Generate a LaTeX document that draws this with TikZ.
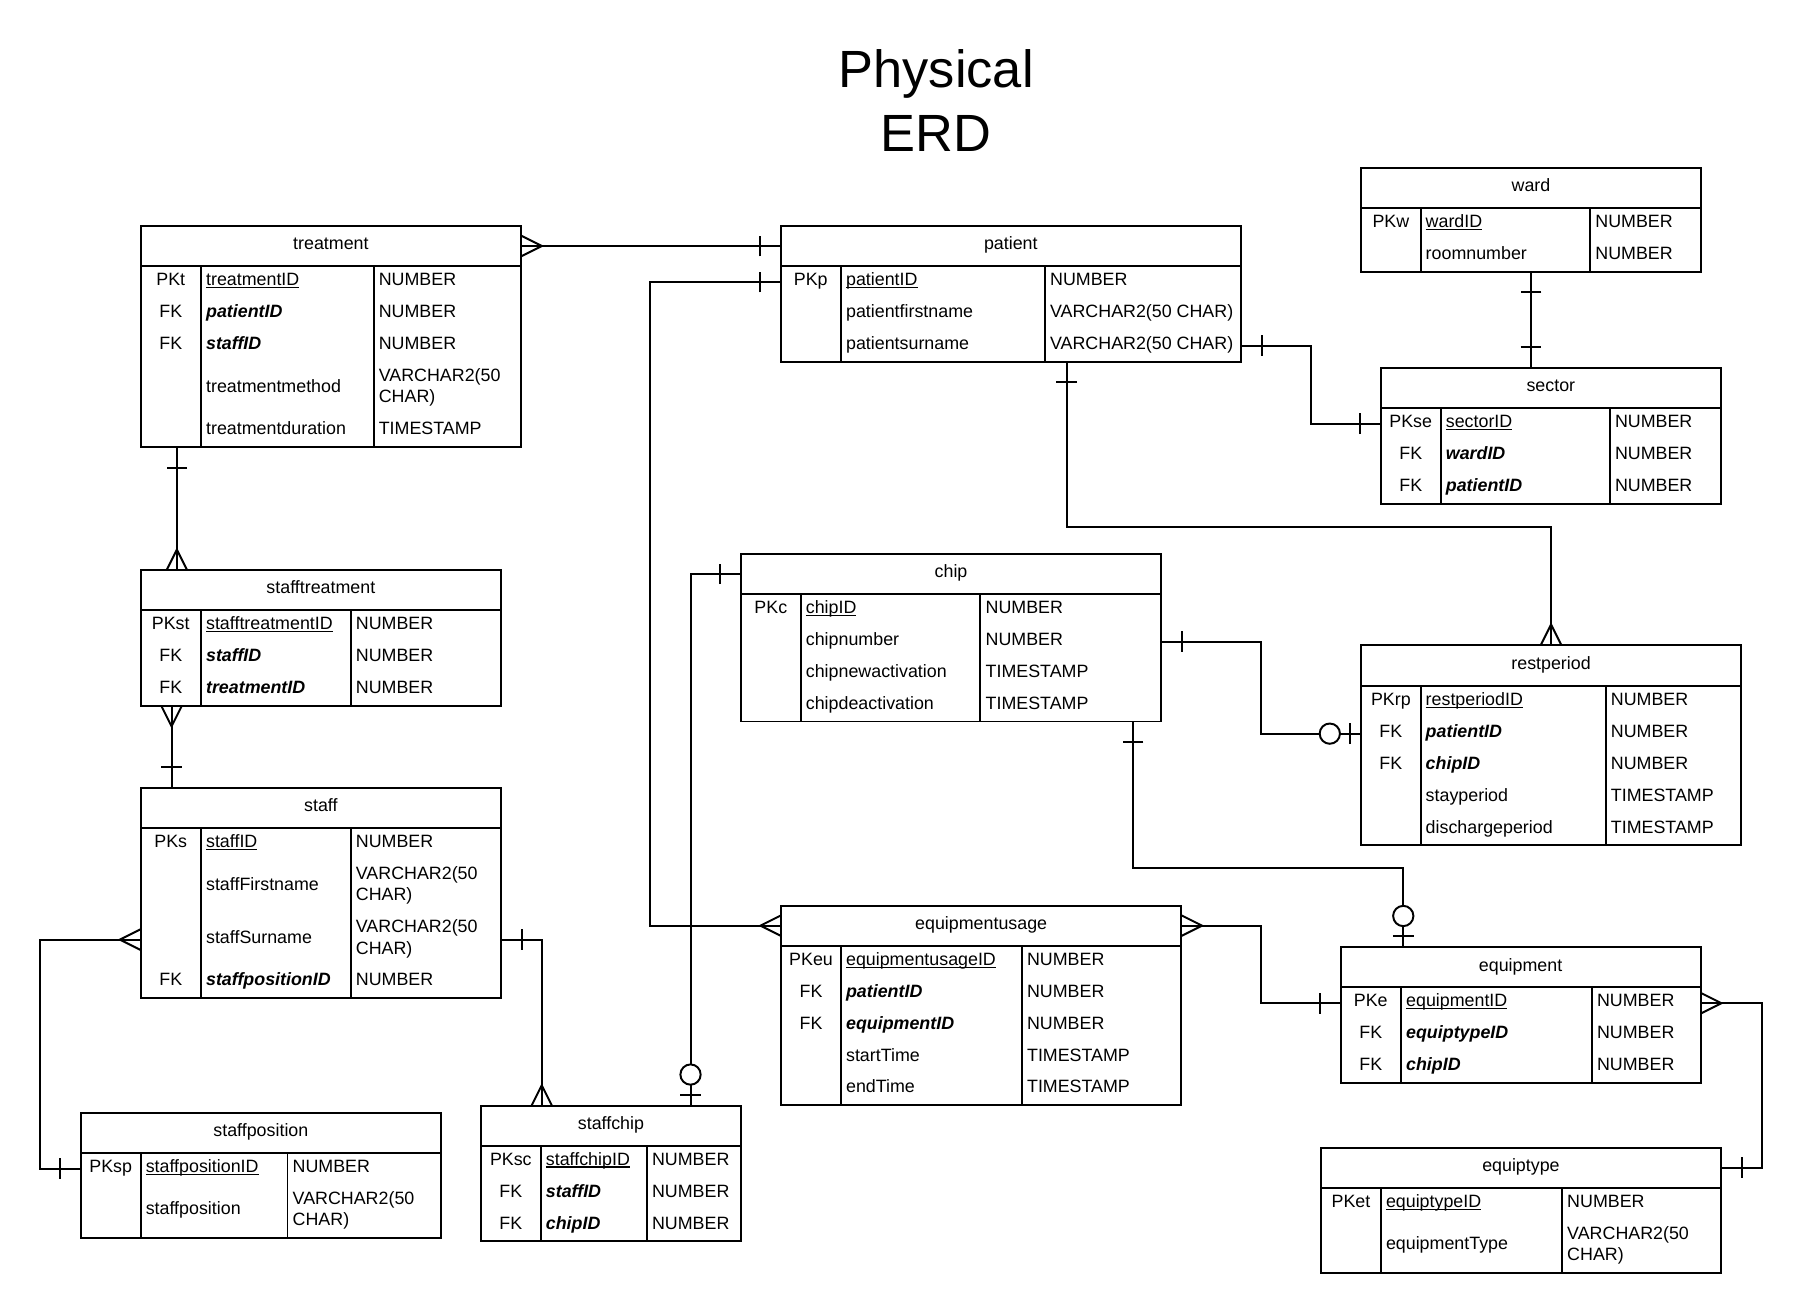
\documentclass[tikz,border=0pt]{standalone}
\usepackage{fontspec}
\setmainfont{Liberation Sans}
\tikzset{
  ent/.style={draw, line width=1.7pt, inner sep=0pt, outer sep=0pt, anchor=north west},
  hdr/.style={draw, line width=1.7pt, inner sep=0pt, outer sep=0pt, anchor=north west,
    text height=11.2pt, text depth=4.8pt, font=\fontsize{15.5}{18.6}\selectfont},
  txt/.style={inner sep=0pt, outer sep=0pt, font=\fontsize{15.5}{18.6}\selectfont},
  conn/.style={line width=1.7pt},
  ttl/.style={inner sep=0pt, anchor=base, font=\fontsize{45.5}{55}\selectfont},
}
\newcommand\pkey[1]{\setbox0\hbox{#1}\rlap{\rule[-2pt]{\wd0}{0.9pt}}\box0}
\newcommand\fkey[1]{\textbf{\textit{#1}}}
\newcommand\twol[2]{\vtop{\baselineskip=18.6pt\lineskiplimit=0pt\hbox{#1}\hbox{#2}}}
\newcommand\ent[9]{%
  \def\exl{#3}\def\edone{#8}\def\edtwo{#9}%
  \node[ent, minimum width={#5-#3}, minimum height={#7-#4}] (#1) at (#3,#4) {};
  \node[hdr, minimum width={#5-#3}, minimum height={#6-#4}] (#1-h) at (#3,#4) {#2};
  \draw[conn] (#8,#6) -- (#8,#7);
  \draw[conn] (#9,#6) -- (#9,#7);
}
\newcommand\erow[6]{%
  \coordinate (#1-y#2) at (\exl,#3);
  \if\relax\detokenize{#4}\relax\else
    \node[txt, anchor=base] (#1-k#2) at ({(\exl+\edone)/2},{#3+3.2}) {#4};
  \fi
  \node[txt, anchor=base west] (#1-r#2) at ({\edone+4.5},{#3+3.2}) {#5};
  \node[txt, anchor=base west] (#1-t#2) at ({\edtwo+4.5},{#3+3.2}) {#6};
}
\newcommand\erowd[6]{%
  \coordinate (#1-y#2) at (\exl,#3);
  \if\relax\detokenize{#4}\relax\else
    \node[txt, anchor=base] (#1-k#2) at ({(\exl+\edone)/2},{#3+3.2}) {#4};
  \fi
  \node[txt, anchor=base west] (#1-r#2) at ({\edone+4.5},{#3+3.2}) {#5};
  \node[txt, anchor=base west] (#1-t#2) at ({\edtwo+4.5},{#3-6.1}) {#6};
}
\newcommand\mone[2]{\begin{scope}[shift={(#1)},rotate=#2]\draw[conn] (18,-9) -- (18,9);\end{scope}}
\newcommand\mmany[2]{\begin{scope}[shift={(#1)},rotate=#2]\draw[conn] (0,-9) -- (18,0) -- (0,9);\end{scope}}
\newcommand\mzone[2]{\begin{scope}[shift={(#1)},rotate=#2]\draw[conn] (9.6,-9) -- (9.6,9);\draw[conn, fill=white] (27.3,0) circle[radius=8.8pt];\end{scope}}

\begin{document}
\begin{tikzpicture}[x=1pt, y=-1pt]
\fill[white] (0,0) rectangle (1565,1140.3);
\useasboundingbox (0,0) rectangle (1565,1140.3);

\node[ttl] (title1) at (813,76.3) {Physical};
\node[ttl] (title2) at (813,131.8) {ERD};

% treatment
\ent{treatment}{treatment}{122.1}{196.3}{452.6}{231.0}{388.1}{174.5}{324.5}
\erow{treatment}{1}{244.85}{PKt}{\pkey{treatmentID}}{NUMBER}
\erow{treatment}{2}{272.55}{FK}{\fkey{patientID}}{NUMBER}
\erow{treatment}{3}{300.25}{FK}{\fkey{staffID}}{NUMBER}
\erowd{treatment}{4}{337.25}{}{treatmentmethod}{\twol{VARCHAR2(50}{CHAR)}}
\erow{treatment}{5}{374.25}{}{treatmentduration}{TIMESTAMP}

% patient
\ent{patient}{patient}{677.9}{196.3}{1077.8}{231.0}{314.1}{730.3}{907.5}
\erow{patient}{1}{244.85}{PKp}{\pkey{patientID}}{NUMBER}
\erow{patient}{2}{272.55}{}{patientfirstname}{VARCHAR2(50 CHAR)}
\erow{patient}{3}{300.25}{}{patientsurname}{VARCHAR2(50 CHAR)}

% ward
\ent{ward}{ward}{1182.2}{145.8}{1477.0}{180.6}{236.0}{1233.7}{1381.1}
\erow{ward}{1}{194.45}{PKw}{\pkey{wardID}}{NUMBER}
\erow{ward}{2}{222.15}{}{roomnumber}{NUMBER}

% sector
\ent{sector}{sector}{1199.2}{319.5}{1494.5}{354.2}{437.3}{1251.2}{1398.1}
\erow{sector}{1}{368.05}{PKse}{\pkey{sectorID}}{NUMBER}
\erow{sector}{2}{395.75}{FK}{\fkey{wardID}}{NUMBER}
\erow{sector}{3}{423.45}{FK}{\fkey{patientID}}{NUMBER}

% stafftreatment
\ent{stafftreatment}{stafftreatment}{122.1}{495.3}{435.2}{529.7}{612.8}{174.5}{304.6}
\erow{stafftreatment}{1}{543.55}{PKst}{\pkey{stafftreatmentID}}{NUMBER}
\erow{stafftreatment}{2}{571.25}{FK}{\fkey{staffID}}{NUMBER}
\erow{stafftreatment}{3}{598.95}{FK}{\fkey{treatmentID}}{NUMBER}

% chip
\ent{chip}{chip}{643.5}{481.0}{1008.4}{515.8}{626.6}{695.4}{851.5}
\erow{chip}{1}{529.65}{PKc}{\pkey{chipID}}{NUMBER}
\erow{chip}{2}{557.35}{}{chipnumber}{NUMBER}
\erow{chip}{3}{585.05}{}{chipnewactivation}{TIMESTAMP}
\erow{chip}{4}{612.75}{}{chipdeactivation}{TIMESTAMP}

% restperiod
\ent{restperiod}{restperiod}{1182.2}{560.4}{1511.9}{595.6}{734.1}{1233.7}{1394.5}
\erow{restperiod}{1}{609.45}{PKrp}{\pkey{restperiodID}}{NUMBER}
\erow{restperiod}{2}{637.15}{FK}{\fkey{patientID}}{NUMBER}
\erow{restperiod}{3}{664.85}{FK}{\fkey{chipID}}{NUMBER}
\erow{restperiod}{4}{692.55}{}{stayperiod}{TIMESTAMP}
\erow{restperiod}{5}{720.25}{}{dischargeperiod}{TIMESTAMP}

% staff
\ent{staff}{staff}{122.1}{684.2}{435.2}{718.9}{866.9}{174.5}{304.6}
\erow{staff}{1}{732.75}{PKs}{\pkey{staffID}}{NUMBER}
\erowd{staff}{2}{769.75}{}{staffFirstname}{\twol{VARCHAR2(50}{CHAR)}}
\erowd{staff}{3}{816.05}{}{staffSurname}{\twol{VARCHAR2(50}{CHAR)}}
\erow{staff}{4}{853.05}{FK}{\fkey{staffpositionID}}{NUMBER}

% staffposition
\ent{staffposition}{staffposition}{70.3}{966.3}{382.8}{1001.0}{1075.0}{122.1}{249.7}
\erow{staffposition}{1}{1014.85}{PKsp}{\pkey{staffpositionID}}{NUMBER}
\erowd{staffposition}{2}{1051.85}{}{staffposition}{\twol{VARCHAR2(50}{CHAR)}}

% staffchip
\ent{staffchip}{staffchip}{417.7}{960.5}{643.5}{994.9}{1078.0}{469.6}{561.8}
\erow{staffchip}{1}{1008.75}{PKsc}{\pkey{staffchipID}}{NUMBER}
\erow{staffchip}{2}{1036.45}{FK}{\fkey{staffID}}{NUMBER}
\erow{staffchip}{3}{1064.15}{FK}{\fkey{chipID}}{NUMBER}

% equipmentusage
\ent{equipmentusage}{equipmentusage}{678.4}{786.5}{1025.9}{821.3}{959.8}{730.3}{887.5}
\erow{equipmentusage}{1}{835.15}{PKeu}{\pkey{equipmentusageID}}{NUMBER}
\erow{equipmentusage}{2}{862.85}{FK}{\fkey{patientID}}{NUMBER}
\erow{equipmentusage}{3}{890.55}{FK}{\fkey{equipmentID}}{NUMBER}
\erow{equipmentusage}{4}{918.25}{}{startTime}{TIMESTAMP}
\erow{equipmentusage}{5}{945.95}{}{endTime}{TIMESTAMP}

% equipment
\ent{equipment}{equipment}{1164.2}{822.8}{1477.0}{857.4}{940.5}{1216.7}{1382.5}
\erow{equipment}{1}{871.25}{PKe}{\pkey{equipmentID}}{NUMBER}
\erow{equipment}{2}{898.95}{FK}{\fkey{equiptypeID}}{NUMBER}
\erow{equipment}{3}{926.65}{FK}{\fkey{chipID}}{NUMBER}

% equiptype
\ent{equiptype}{equiptype}{1147.3}{997.0}{1494.5}{1031.4}{1105.4}{1199.2}{1356.6}
\erow{equiptype}{1}{1045.25}{PKet}{\pkey{equiptypeID}}{NUMBER}
\erowd{equiptype}{2}{1082.25}{}{equipmentType}{\twol{VARCHAR2(50}{CHAR)}}

% ---------- connectors ----------
\draw[conn] (treatment-h.east) -- (patient-h.west);
\mmany{treatment-h.east}{0}\mone{patient-h.west}{180}

\draw[conn] (patient-y1) -- ++(-113,0) |- (equipmentusage-h.west);
\mone{patient-y1}{180}\mmany{equipmentusage-h.west}{180}

\coordinate (p3a) at ([xshift=31.5pt]treatment.south west);
\coordinate (p3b) at ([xshift=31.5pt]stafftreatment.north west);
\draw[conn] (p3a) -- (p3b);
\mone{p3a}{270}\mmany{p3b}{90}

\coordinate (p4a) at ([xshift=26.9pt]stafftreatment.south west);
\coordinate (p4b) at ([xshift=26.9pt]staff.north west);
\draw[conn] (p4a) -- (p4b);
\mmany{p4a}{270}\mone{p4b}{90}

\draw[conn] (staff-y3) -- ++(-87.7,0) |- (staffposition-y1);
\mmany{staff-y3}{180}\mone{staffposition-y1}{180}

\coordinate (p6a) at (staff.east |- staff-y3);
\coordinate (p6b) at ([xshift=52.8pt]staffchip.north west);
\draw[conn] (p6a) -| (p6b);
\mone{p6a}{0}\mmany{p6b}{90}

\coordinate (p7b) at ([xshift=182pt]staffchip.north west);
\draw[conn] (chip-h.west) -| (p7b);
\mone{chip-h.west}{180}\mzone{p7b}{90}

\coordinate (p8a) at (patient.east |- patient-y3);
\draw[conn] (p8a) -- ++(60.5,0) |- (sector-y1);
\mone{p8a}{0}\mone{sector-y1}{180}

\coordinate (p9b) at (ward.south |- sector.north);
\draw[conn] (ward.south) -- (p9b);
\mone{ward.south}{270}\mone{p9b}{90}

\coordinate (p10a) at ([xshift=248.5pt]patient.south west);
\draw[conn] (p10a) -- ++(0,143.9) -| (restperiod.north);
\mone{p10a}{270}\mmany{restperiod.north}{90}

\coordinate (p11a) at (chip.east |- chip-y2);
\draw[conn] (p11a) -- ++(86.4,0) |- (restperiod-y2);
\mone{p11a}{0}\mzone{restperiod-y2}{180}

\coordinate (p12a) at ([xshift=340.4pt]chip.south west);
\coordinate (p12b) at ([xshift=54.5pt]equipment.north west);
\draw[conn] (p12a) -- ++(0,127.4) -| (p12b);
\mone{p12a}{270}\mzone{p12b}{90}

\draw[conn] (equipmentusage-h.east) -- ++(68.9,0) |- (equipment-y1);
\mmany{equipmentusage-h.east}{0}\mone{equipment-y1}{180}

\coordinate (p14a) at (equipment.east |- equipment-y1);
\draw[conn] (p14a) -- ++(52.9,0) |- (equiptype-h.east);
\mmany{p14a}{0}\mone{equiptype-h.east}{0}
\end{tikzpicture}
\end{document}
